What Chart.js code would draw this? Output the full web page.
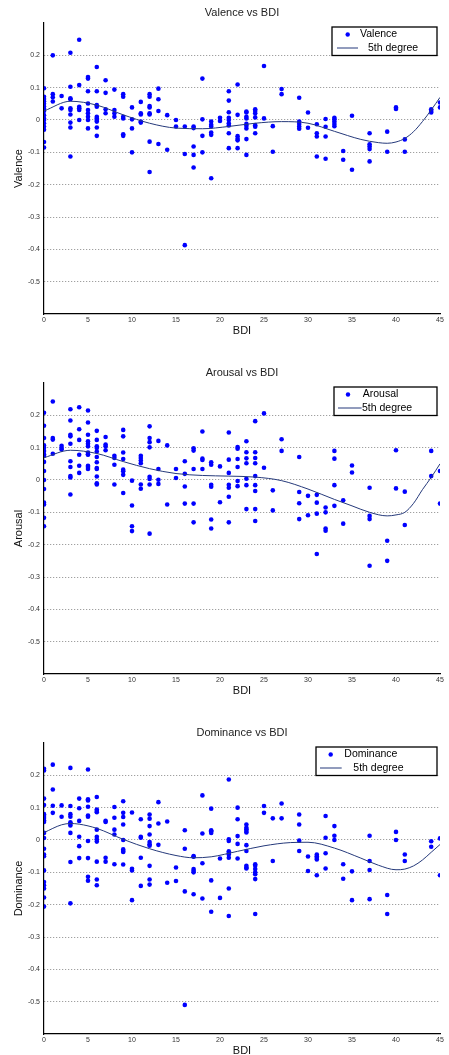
<!DOCTYPE html>
<html>
<head>
<meta charset="utf-8">
<script src="https://cdn.jsdelivr.net/npm/chart.js@4.4.1/dist/chart.umd.min.js"></script>
<style>
  html, body { margin: 0; padding: 0; background: #fff; overflow: hidden; width: 449px; height: 1055px; }
  .wrap { position: absolute; left: 0; width: 449px; height: 360px; }
  canvas { display: block; }
</style>
</head>
<body>
<div class="wrap" style="top:0px"><canvas id="c1" width="449" height="360"></canvas></div>
<div class="wrap" style="top:360px"><canvas id="c2" width="449" height="360"></canvas></div>
<div class="wrap" style="top:720px"><canvas id="c3" width="449" height="360"></canvas></div>
<script>
// ---------- DATA ----------
const xTicks = [0, 5, 10, 15, 20, 25, 30, 35, 40, 45];
const yTicks = [-0.5, -0.4, -0.3, -0.2, -0.1, 0, 0.1, 0.2];

// [BDI, [values...]]
const valencePoints = [
  [0, [0.098, 0.072, 0.065, 0.058, 0.05, 0.042, 0.035, 0.028, 0.015, 0.005, 0, -0.01, -0.02, -0.03, -0.068, -0.085]],
  [1, [0.2, 0.08, 0.07, 0.057]],
  [2, [0.074, 0.036]],
  [3, [0.208, 0.103, 0.067, 0.064, 0.036, 0.031, 0.017, -0.008, -0.023, -0.113]],
  [4, [0.248, 0.108, 0.041, 0.036, 0.031, 0.0]],
  [5, [0.133, 0.128, 0.089, 0.051, 0.031, 0.021, 0.01, 0.0, -0.026]],
  [6, [0.164, 0.089, 0.046, 0.041, 0.01, 0.005, 0, -0.005, -0.023, -0.049]],
  [7, [0.123, 0.084, 0.033, 0.021]],
  [8, [0.094, 0.031, 0.021, 0.01]],
  [9, [0.08, 0.072, 0.01, 0.005, -0.044, -0.049]],
  [10, [0.039, 0.002, -0.026, -0.1]],
  [11, [0.056, 0.021, 0.017, -0.005, -0.008]],
  [12, [0.08, 0.072, 0.043, 0.039, 0.021, 0.017, -0.067, -0.161]],
  [13, [0.097, 0.064, 0.028, -0.074]],
  [14, [0.015, -0.092]],
  [15, [0, -0.02]],
  [16, [-0.02, -0.105, -0.387]],
  [17, [-0.02, -0.025, -0.082, -0.108, -0.147]],
  [18, [0.128, 0.002, -0.049, -0.1]],
  [19, [-0.005, -0.015, -0.02, -0.039, -0.046, -0.18]],
  [20, [0.007, -0.003]],
  [21, [0.089, 0.06, 0.024, 0.007, 0, -0.01, -0.017, -0.041, -0.087]],
  [22, [0.11, 0.016, -0.05, -0.058, -0.063, -0.087]],
  [23, [0.026, 0.023, 0.01, 0.005, -0.012, -0.018, -0.026, -0.059, -0.108]],
  [24, [0.033, 0.028, 0.021, 0.008, -0.016, -0.021, -0.041]],
  [25, [0.167, 0.005]],
  [26, [-0.019, -0.098]],
  [27, [0.096, 0.08]],
  [29, [0.069, -0.005, -0.012, -0.02, -0.027]],
  [30, [0.023, -0.024]],
  [31, [-0.013, -0.041, -0.051, -0.113]],
  [32, [0.003, -0.021, -0.051, -0.12]],
  [33, [0.007, 0.002, -0.005, -0.012, -0.019]],
  [34, [-0.096, -0.123]],
  [35, [0.013, -0.154]],
  [37, [-0.041, -0.075, -0.082, -0.09, -0.128]],
  [39, [-0.036, -0.098]],
  [40, [0.039, 0.034]],
  [41, [-0.06, -0.098]],
  [44, [0.033, 0.028, 0.023]],
  [45, [0.054, 0.039]]
];
const valenceFitX = [0, 3, 6, 9, 12, 15, 18, 21, 24, 27, 30, 33, 36, 38, 39, 40, 41, 42, 43, 44, 45];
const valenceFitY = [0.028, 0.058, 0.046, 0.016, -0.01, -0.025, -0.027, -0.02, -0.01, -0.005, -0.01, -0.035, -0.06, -0.07, -0.072, -0.068, -0.057, -0.036, -0.005, 0.031, 0.07];

const arousalPoints = [
  [0, [0.208, 0.168, 0.13, 0.107, 0.1, 0.09, 0.08, 0.074, 0.056, 0.028, 0, -0.028, -0.07, -0.076, -0.117, -0.143]],
  [1, [0.243, 0.13, 0.125, 0.081]],
  [2, [0.106, 0.099, 0.094]],
  [3, [0.219, 0.184, 0.14, 0.135, 0.112, 0.058, 0.04, 0.012, 0.008, -0.045]],
  [4, [0.225, 0.157, 0.124, 0.078, 0.044, 0.022]],
  [5, [0.215, 0.178, 0.14, 0.12, 0.112, 0.104, 0.085, 0.08, 0.078, 0.044, 0.04, 0.034]],
  [6, [0.152, 0.124, 0.104, 0.099, 0.088, 0.071, 0.055, 0.037, 0.034, 0.011, -0.01, -0.014]],
  [7, [0.133, 0.11, 0.104, 0.092]],
  [8, [0.075, 0.068, 0.047, -0.014]],
  [9, [0.155, 0.135, 0.085, 0.065, 0.032, 0.027, 0.016, -0.04]],
  [10, [-0.002, -0.079, -0.143, -0.158]],
  [11, [0.075, 0.068, 0.06, 0.052, -0.014, -0.027]],
  [12, [0.166, 0.13, 0.117, 0.101, 0.01, 0.003, -0.014, -0.166]],
  [13, [0.121, 0.034, 0.001, -0.012]],
  [14, [0.107, -0.076]],
  [15, [0.034, 0.006]],
  [16, [0.058, 0.019, -0.02, -0.073]],
  [17, [0.098, 0.091, 0.034, -0.073, -0.131]],
  [18, [0.15, 0.066, 0.062, 0.034]],
  [19, [0.055, 0.047, -0.015, -0.021, -0.122, -0.15]],
  [20, [0.042, -0.069]],
  [21, [0.147, 0.063, 0.022, -0.015, -0.024, -0.052, -0.131]],
  [22, [0.102, 0.097, 0.065, 0.04, -0.003, -0.019]],
  [23, [0.12, 0.086, 0.067, 0.052, 0.004, -0.016, -0.09]],
  [24, [0.182, 0.086, 0.068, 0.052, 0.012, -0.016, -0.034, -0.09, -0.127]],
  [25, [0.206, 0.038]],
  [26, [-0.032, -0.094]],
  [27, [0.126, 0.09]],
  [29, [0.071, -0.037, -0.072, -0.121]],
  [30, [-0.049, -0.109]],
  [31, [-0.046, -0.07, -0.104, -0.229]],
  [32, [-0.085, -0.1, -0.15, -0.157]],
  [33, [0.09, 0.066, -0.016, -0.08]],
  [34, [-0.063, -0.135]],
  [35, [0.045, 0.023]],
  [37, [-0.024, -0.111, -0.121, -0.265]],
  [39, [-0.188, -0.25]],
  [40, [0.092, -0.026]],
  [41, [-0.036, -0.139]],
  [44, [0.09, 0.012]],
  [45, [0.028, -0.073]]
];
const arousalFitX = [0, 3, 6, 9, 12, 15, 18, 21, 24, 27, 30, 33, 35, 37, 39, 40, 41, 42, 43, 44, 45];
const arousalFitY = [0.069, 0.092, 0.082, 0.057, 0.035, 0.02, 0.014, 0.012, 0.009, -0.002, -0.028, -0.06, -0.08, -0.1, -0.111, -0.108, -0.1, -0.072, -0.03, 0.008, 0.05];

const dominancePoints = [
  [0, [0.22, 0.215, 0.128, 0.108, 0.08, 0.074, 0.068, 0.061, 0.056, 0.022, 0.006, -0.027, -0.045, -0.05, -0.094, -0.13, -0.14, -0.15, -0.178, -0.206]],
  [1, [0.233, 0.156, 0.106, 0.084]],
  [2, [0.107, 0.072]],
  [3, [0.223, 0.105, 0.08, 0.072, 0.055, 0.05, 0.045, 0.022, -0.068, -0.196]],
  [4, [0.128, 0.098, 0.059, 0.01, -0.019, -0.056]],
  [5, [0.218, 0.126, 0.122, 0.103, 0.076, 0.072, -0.003, -0.056, -0.114, -0.126]],
  [6, [0.133, 0.094, 0.09, 0.086, 0.032, 0.01, 0.002, -0.005, -0.067, -0.122, -0.14]],
  [7, [0.059, 0.056, -0.055, -0.067]],
  [8, [0.102, 0.069, 0.032, 0.017, -0.075]],
  [9, [0.12, 0.084, 0.071, 0.048, 0, -0.029, -0.034, -0.037, -0.076]],
  [10, [0.085, -0.089, -0.094, -0.186]],
  [11, [0.064, 0.01, 0.007, -0.055, -0.142]],
  [12, [0.079, 0.066, 0.043, 0.017, -0.006, -0.013, -0.018, -0.08, -0.122, -0.138]],
  [13, [0.117, 0.051, -0.015]],
  [14, [0.057, -0.132]],
  [15, [-0.085, -0.127]],
  [16, [0.03, -0.027, -0.159, -0.51]],
  [17, [-0.05, -0.052, -0.09, -0.095, -0.1, -0.168]],
  [18, [0.138, 0.02, -0.072, -0.181]],
  [19, [0.097, 0.03, 0.027, 0.022, -0.125, -0.222]],
  [20, [-0.057, -0.179]],
  [21, [0.187, 0.002, -0.003, -0.035, -0.04, -0.045, -0.055, -0.15, -0.235]],
  [22, [0.1, 0.064, 0.012, -0.012, -0.057]],
  [23, [0.048, 0.038, 0.033, 0.028, 0.023, -0.016, -0.034, -0.08, -0.085, -0.088]],
  [24, [-0.075, -0.08, -0.09, -0.1, -0.106, -0.121, -0.229]],
  [25, [0.105, 0.084]],
  [26, [0.067, -0.065]],
  [27, [0.113, 0.067]],
  [29, [0.079, 0.048, -0.002, -0.034]],
  [30, [-0.051, -0.096]],
  [31, [-0.045, -0.05, -0.055, -0.06, -0.109]],
  [32, [0.074, 0.007, -0.041, -0.088]],
  [33, [0.043, 0.013, 0]],
  [34, [-0.075, -0.12]],
  [35, [-0.097, -0.186]],
  [37, [0.013, -0.065, -0.093, -0.183]],
  [39, [-0.17, -0.229]],
  [40, [0.025, 0]],
  [41, [-0.045, -0.065]],
  [44, [-0.004, -0.021]],
  [45, [0.005, -0.109]]
];
const dominanceFitX = [0, 2, 3, 4, 6, 9, 12, 15, 17, 19, 22, 25, 28, 30, 33, 36, 38, 40, 41, 42, 43, 44, 45];
const dominanceFitY = [0.023, 0.047, 0.051, 0.049, 0.036, 0.002, -0.027, -0.048, -0.055, -0.052, -0.035, -0.018, -0.008, -0.007, -0.025, -0.056, -0.078, -0.092, -0.09, -0.08, -0.062, -0.038, -0.014];

// ---------- STYLE / BUILD ----------
const FONT = '"Liberation Sans", Arial, Helvetica, sans-serif';
const POINT_COLOR = '#0000ff';
const LINE_COLOR = '#25397a';

function toXY(cols) {
  const out = [];
  for (const [x, ys] of cols) for (const y of ys) out.push({ x, y });
  return out;
}
function zipXY(xs, ys) { return xs.map((x, i) => ({ x, y: ys[i] })); }

const boxLegend = {
  id: 'boxLegend',
  afterDraw(chart, args, o) {
    const { ctx, chartArea } = chart;
    const right = chartArea.right - 3;
    const left = right - o.width;
    const top = chartArea.top + 4;
    const h = 28.5;
    const ds = chart.data.datasets;
    ctx.save();
    ctx.fillStyle = '#fff';
    ctx.fillRect(left, top, o.width, h);
    ctx.strokeStyle = '#000';
    ctx.lineWidth = 1.3;
    ctx.strokeRect(left, top, o.width, h);
    ctx.fillStyle = POINT_COLOR;
    ctx.beginPath();
    ctx.arc(left + o.markerX, top + 7.5, 2.2, 0, Math.PI * 2);
    ctx.fill();
    ctx.font = '10.5px ' + FONT;
    ctx.textBaseline = 'middle';
    ctx.fillStyle = '#000';
    ctx.fillText(ds[1].label, left + o.text1X, top + 7.5);
    ctx.strokeStyle = LINE_COLOR;
    ctx.lineWidth = 1;
    ctx.beginPath();
    ctx.moveTo(left + o.lineX0, top + 21);
    ctx.lineTo(left + o.lineX1, top + 21);
    ctx.stroke();
    ctx.fillText(ds[0].label, left + o.text2X, top + 21);
    ctx.restore();
  }
};

function isEdge(v) {
  const r = Math.round(v * 10) / 10;
  return r <= -0.6 || r >= 0.3;
}

function makeChart(id, title, name, points, fitX, fitY, legendOpts) {
  return new Chart(document.getElementById(id), {
    type: 'scatter',
    data: {
      datasets: [
        {
          type: 'line',
          label: '5th degree',
          data: zipXY(fitX, fitY),
          borderColor: LINE_COLOR,
          borderWidth: 1,
          pointRadius: 0,
          fill: false,
          cubicInterpolationMode: 'monotone'
        },
        {
          label: name,
          data: toXY(points),
          backgroundColor: POINT_COLOR,
          borderColor: POINT_COLOR,
          borderWidth: 0,
          pointRadius: 2.3,
          pointHoverRadius: 2.3
        }
      ]
    },
    options: {
      responsive: false,
      animation: false,
      events: [],
      layout: { padding: { left: 0, right: 9, top: 0, bottom: 0 } },
      plugins: {
        legend: { display: false },
        tooltip: { enabled: false },
        title: {
          display: true,
          text: title,
          fullSize: false,
          color: '#222',
          font: { family: FONT, size: 11, weight: 'normal' },
          padding: { top: 6.7, bottom: 3.1 }
        },
        boxLegend: legendOpts
      },
      scales: {
        x: {
          type: 'linear',
          min: 0, max: 45,
          afterFit(s) { s.height = 46; },
          afterBuildTicks(s) { s.ticks = xTicks.map(v => ({ value: v })); },
          grid: { display: false, drawTicks: false },
          border: { display: true, color: '#000', width: 1.2 },
          ticks: { color: '#333', padding: 2, font: { family: FONT, size: 7 }, maxRotation: 0, autoSkip: false },
          title: { display: true, text: 'BDI', color: '#111', font: { family: FONT, size: 11 }, padding: { top: 0, bottom: 22.4 } }
        },
        y: {
          type: 'linear',
          min: -0.6, max: 0.3,
          afterFit(s) { s.width = 44; },
          afterBuildTicks(s) { s.ticks = [-0.6].concat(yTicks, [0.3]).map(v => ({ value: v })); },
          grid: {
            drawTicks: false,
            color: (c) => (c.tick && isEdge(c.tick.value)) ? 'rgba(0,0,0,0)' : '#8a8a8a',
            lineWidth: 1
          },
          border: { display: true, color: '#000', width: 1.2, dash: [1, 2] },
          ticks: {
            color: '#333', padding: 4, font: { family: FONT, size: 7 }, autoSkip: false,
            callback: (v) => {
              if (isEdge(v)) return '';
              const r = Math.round(v * 10) / 10;
              return r === 0 ? '0' : String(r);
            }
          },
          title: { display: true, text: name, color: '#111', font: { family: FONT, size: 11 }, padding: { top: 12.8, bottom: 0 } }
        }
      }
    },
    plugins: [boxLegend]
  });
}

makeChart('c1', 'Valence vs BDI', 'Valence', valencePoints, valenceFitX, valenceFitY,
  { width: 105, markerX: 15.7, text1X: 28, lineX0: 5, lineX1: 26, text2X: 36 });
makeChart('c2', 'Arousal vs BDI', 'Arousal', arousalPoints, arousalFitX, arousalFitY,
  { width: 103, markerX: 14, text1X: 28.7, lineX0: 4, lineX1: 27.7, text2X: 28 });
makeChart('c3', 'Dominance vs BDI', 'Dominance', dominancePoints, dominanceFitX, dominanceFitY,
  { width: 121, markerX: 14.7, text1X: 28.3, lineX0: 4, lineX1: 25.7, text2X: 37.3 });
</script>
</body>
</html>
